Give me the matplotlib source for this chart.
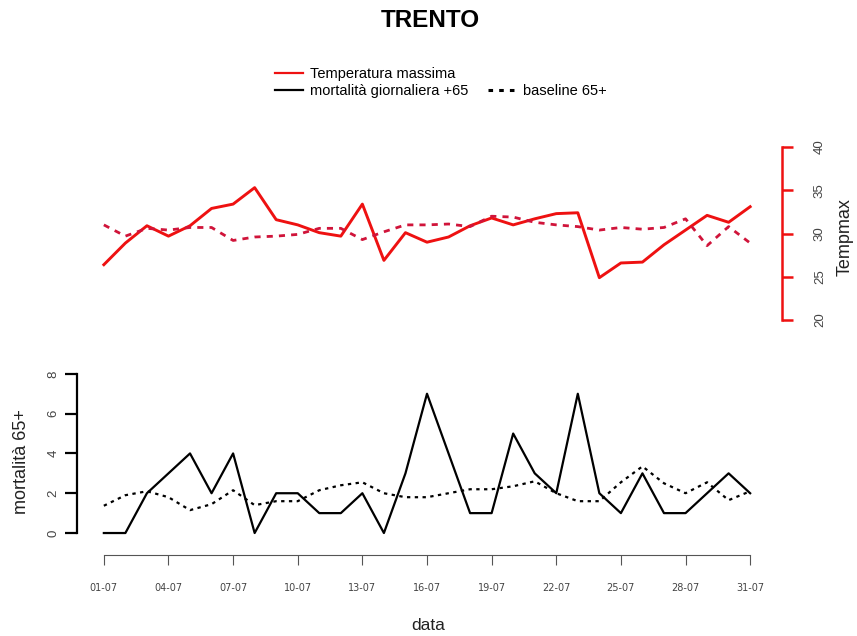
import matplotlib.pyplot as plt
from matplotlib.lines import Line2D

# data (days of July)
giorni = list(range(1, 32))
tick_giorni = list(range(1, 32, 3))
tick_labels = ["%02d-07" % d for d in tick_giorni]

temp_max = [26.4, 28.9, 30.9, 29.7, 30.9, 32.9, 33.4, 35.3, 31.6, 31.0,
            30.1, 29.7, 33.4, 26.9, 30.1, 29.0, 29.6, 30.9, 31.8, 31.0,
            31.7, 32.3, 32.4, 24.9, 26.6, 26.7, 28.7, 30.4, 32.1, 31.3, 33.1]
temp_base = [31.0, 29.7, 30.6, 30.4, 30.7, 30.7, 29.2, 29.6, 29.7, 29.9,
             30.6, 30.6, 29.3, 30.2, 31.0, 31.0, 31.1, 30.8, 32.0, 31.9,
             31.3, 31.0, 30.8, 30.4, 30.7, 30.5, 30.7, 31.7, 28.6, 30.8, 28.9]
mortalita = [0, 0, 2, 3, 4, 2, 4, 0, 2, 2, 1, 1, 2, 0, 3, 7, 4, 1, 1, 5,
             3, 2, 7, 2, 1, 3, 1, 1, 2, 3, 2]
mort_base = [1.37, 1.9, 2.1, 1.8, 1.15, 1.45, 2.15, 1.4, 1.6, 1.6,
             2.15, 2.4, 2.55, 2.0, 1.8, 1.8, 2.0, 2.2, 2.2, 2.35,
             2.6, 2.0, 1.6, 1.6, 2.55, 3.35, 2.5, 2.0, 2.55, 1.65, 2.1]

ROSSO = '#ee1111'
ROSSO_B = '#d0143a'
GRIGIO = '#444444'
FONT = 'Liberation Sans'

fig = plt.figure(figsize=(8.57, 6.36), dpi=100)

# upper panel: temperature (right axis only)
ax1 = fig.add_axes([0.091, 0.4858, 0.8145, 0.294])
ax1.plot(giorni, temp_max, color=ROSSO, lw=2.1)
ax1.plot(giorni, temp_base, color=ROSSO_B, lw=2, linestyle=(0, (2.2, 2.2)))
ax1.set_xlim(-0.2, 32.2)
ax1.set_ylim(19.2, 40.8)
for s in ['left', 'top', 'bottom']:
    ax1.spines[s].set_visible(False)
ax1.spines['right'].set_position(('outward', 4.3))
ax1.spines['right'].set_bounds(20, 40)
ax1.spines['right'].set_color(ROSSO)
ax1.spines['right'].set_linewidth(1.8)
ax1.set_xticks([])
ax1.yaxis.tick_right()
ax1.set_yticks([20, 25, 30, 35, 40])
ax1.tick_params(axis='y', colors=ROSSO, length=8, width=1.8, pad=15,
                labelsize=9.5, labelcolor=GRIGIO)
for t in ax1.get_yticklabels():
    t.set_rotation(90)
    t.set_va('center')
    t.set_family(FONT)

# lower panel: mortality
ax2 = fig.add_axes([0.091, 0.1519, 0.8145, 0.2703])
ax2.plot(giorni, mortalita, color='black', lw=1.6)
ax2.plot(giorni, mort_base, color='black', lw=1.6, linestyle=(0, (1.5, 2)))
ax2.set_xlim(-0.2, 32.2)
ax2.set_ylim(-0.32, 8.32)
ax2.spines['top'].set_visible(False)
ax2.spines['right'].set_visible(False)
ax2.spines['bottom'].set_position(('outward', 11.2))
ax2.spines['bottom'].set_bounds(1, 31)
ax2.spines['bottom'].set_color('#555555')
ax2.spines['left'].set_position(('outward', 1))
ax2.spines['left'].set_bounds(0, 8)
ax2.spines['left'].set_linewidth(1.6)
ax2.set_xticks(tick_giorni)
ax2.set_xticklabels(tick_labels)
ax2.set_yticks([0, 2, 4, 6, 8])
ax2.tick_params(axis='x', length=7, color='#555555', pad=13, labelsize=7,
                labelcolor=GRIGIO)
ax2.tick_params(axis='y', length=8.5, width=1.6, pad=4, labelsize=9.5,
                labelcolor=GRIGIO)
for t in ax2.get_yticklabels():
    t.set_rotation(90)
    t.set_va('center')
    t.set_family(FONT)

fig.text(0.502, 0.968, 'TRENTO', ha='center', va='center', fontsize=17.5,
         fontweight='bold', family=FONT)
fig.text(0.5, 0.017, 'data', ha='center', va='center', fontsize=12.5,
         family=FONT, color='#222222')
fig.text(0.025, 0.2744, 'mortalità 65+', ha='center', va='center',
         fontsize=13, rotation=90, family=FONT, color='#222222')
fig.text(0.986, 0.627, 'Tempmax', ha='center', va='center', fontsize=13,
         rotation=90, family=FONT, color='#222222')

vuoto = Line2D([], [], color='none')
handles = [Line2D([], [], color=ROSSO, lw=1.6),
           Line2D([], [], color='black', lw=1.6),
           vuoto,
           Line2D([], [], color='black', lw=2.2, linestyle=(0, (1.5, 2)))]
labels = ['Temperatura massima', 'mortalità giornaliera +65', '',
          'baseline 65+']
fig.legend(handles, labels, ncol=2, loc='upper left',
           bbox_to_anchor=(0.321, 0.895), frameon=False,
           prop={'family': FONT, 'size': 10.5},
           handlelength=1.9, handletextpad=0.48, columnspacing=1.35,
           labelspacing=0.22, borderpad=0, borderaxespad=0)

plt.savefig('out.png', dpi=100)
